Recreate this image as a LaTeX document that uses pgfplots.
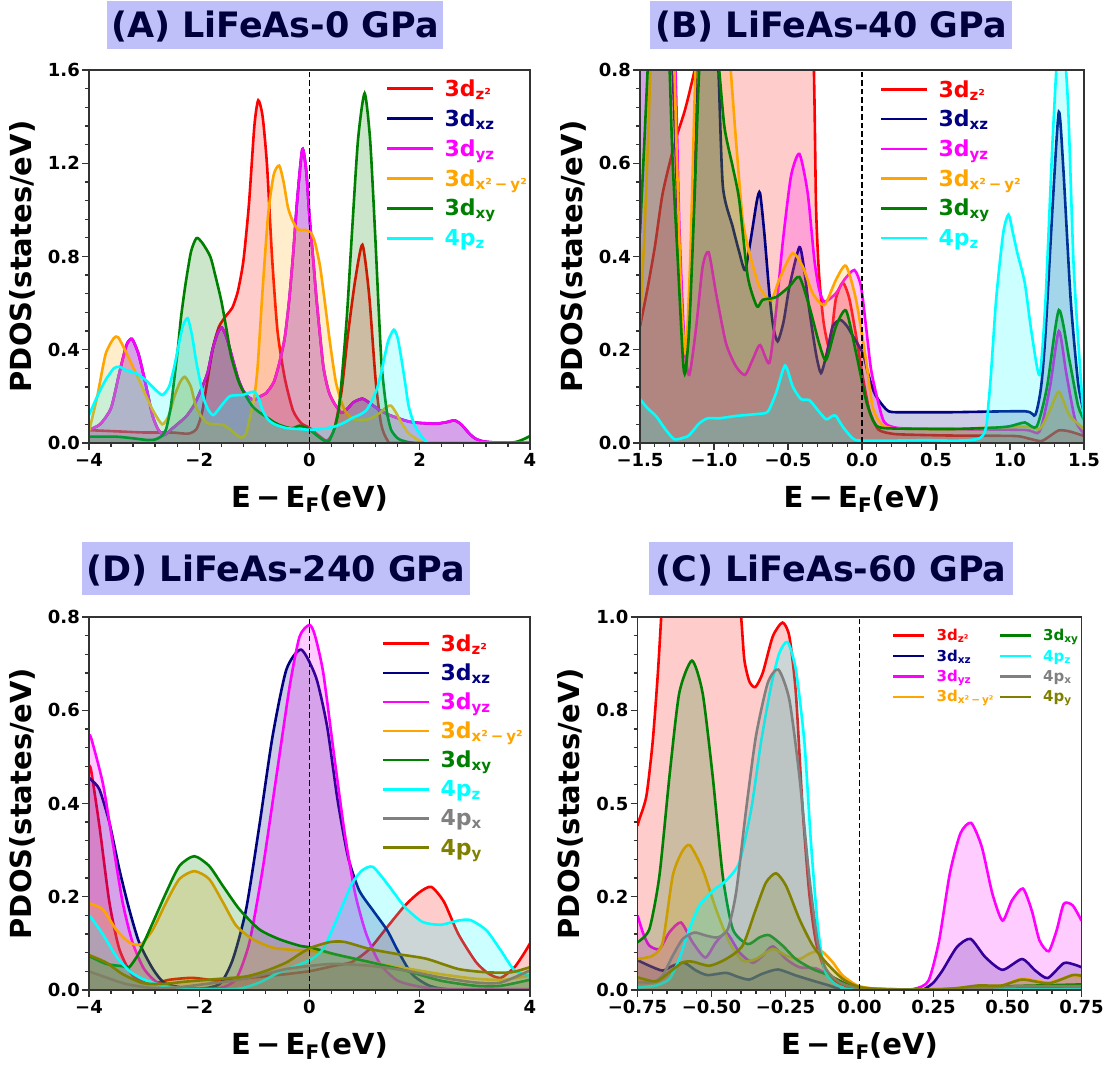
\documentclass[border=0pt]{standalone}
\usepackage{fontspec}
\setmainfont{DejaVu Sans}
\usepackage{pgfplots}
\pgfplotsset{compat=1.18}

\definecolor{cred}{RGB}{255,0,0}
\definecolor{cnavy}{RGB}{0,0,128}
\definecolor{cmag}{RGB}{255,0,255}
\definecolor{corange}{RGB}{255,165,0}
\definecolor{cgreen}{RGB}{0,128,0}
\definecolor{ccyan}{RGB}{0,255,255}
\definecolor{cgray}{RGB}{128,128,128}
\definecolor{colive}{RGB}{128,128,0}
\definecolor{tbox}{RGB}{191,191,250}
\definecolor{ttext}{RGB}{0,0,60}

\newcommand{\lo}[3]{\raisebox{#2}{\fontsize{#1}{#1}\selectfont #3}}
\newcommand{\pdos}[2]{%
  \addplot[draw=none, fill=#1, fill opacity=0.2, smooth, tension=0.4, forget plot] coordinates {#2} \closedcycle;
  \addplot[#1, line width=2.6pt, smooth, tension=0.4, forget plot] coordinates {#2};
}
\newcommand{\zline}[1]{\addplot[black, line width=1.5pt, dash pattern=on 5.5pt off 3pt, forget plot] coordinates {(0,0) (0,#1)};}

\newcommand{\bigsub}[1]{\lo{15}{-3pt}{#1}}
\newcommand{\smsub}[1]{\lo{10.5}{-2pt}{#1}}

\pgfplotsset{
  pd/.style={
    scale only axis, height=373pt,
    axis on top,
    axis line style={line width=1.5pt, black!80},
    tick style={line width=1.3pt, black!80},
    major tick length=7pt, minor tick length=4pt,
    tick align=outside, xtick pos=bottom, ytick pos=left,
    minor tick num=4,
    tick label style={font=\fontsize{18}{18}\selectfont\bfseries},
    yticklabel style={inner xsep=2pt},
    xlabel={E\hspace{0.18em}−\hspace{0.18em}E\lo{20}{-5pt}{F}(eV)},
    ylabel={PDOS(states/eV)},
    label style={font=\fontsize{29}{29}\selectfont\bfseries},
    xlabel style={at={(axis description cs:0.5,-0.172)}, anchor=base},
    ylabel style={at={(axis description cs:-0.15,0.5)}, anchor=center},
    legend style={draw=none, fill=none, inner sep=0pt, outer sep=0pt, column sep=0pt, anchor=north west},
  },
  bigleg/.style={legend style={font=\fontsize{22}{22}\selectfont\bfseries, row sep=7.7pt, cells={anchor=west, inner sep=0pt, text height=16.7pt, text depth=0pt}}},
  smleg/.style={legend style={font=\fontsize{15}{15}\selectfont\bfseries, row sep=3.5pt, column sep=3pt, cells={anchor=west, inner sep=0pt, text height=11.4pt, text depth=0pt}}},
}

\begin{document}
\begin{tikzpicture}
\path[use as bounding box] (0pt,0pt) rectangle (1106pt,1065pt);

% ---------------- (A) ----------------
\begin{axis}[pd, bigleg, at={(89pt,622pt)}, anchor=south west, width=441pt,
  xmin=-4, xmax=4, ymin=0, ymax=1.6,
  xtick={-4,-2,0,2,4}, xticklabels={−4,−2,0,2,4},
  ytick={0,0.4,0.8,1.2,1.6}, yticklabels={0.0,0.4,0.8,1.2,1.6},
  legend image code/.code={\draw[#1] (0pt,0pt) -- (46pt,0pt); \path (54pt,0pt);},
  legend style={at={(axis description cs:0.6735,0.9795)}}]
\pdos{cred}{(-4,0.055) (-3.5,0.05) (-3,0.045) (-2.5,0.045) (-2.2,0.04) (-2.05,0.06) (-1.95,0.13) (-1.85,0.27) (-1.75,0.41) (-1.64,0.5) (-1.5,0.55) (-1.4,0.58) (-1.3,0.65) (-1.2,0.78) (-1.1,1.02) (-1.0,1.36) (-0.93,1.47) (-0.85,1.4) (-0.77,1.19) (-0.68,0.8) (-0.58,0.48) (-0.45,0.28) (-0.3,0.14) (-0.15,0.085) (0,0.065) (0.15,0.035) (0.32,0.01) (0.45,0.06) (0.58,0.22) (0.7,0.47) (0.83,0.7) (0.96,0.85) (1.08,0.64) (1.2,0.27) (1.3,0.08) (1.42,0.01) (1.6,0) (4,0)}
\pdos{cnavy}{(-4,0.057) (-3.8,0.08) (-3.6,0.15) (-3.45,0.3) (-3.32,0.42) (-3.22,0.446) (-3.1,0.38) (-2.97,0.25) (-2.85,0.12) (-2.75,0.06) (-2.64,0.034) (-2.5,0.06) (-2.35,0.09) (-2.24,0.113) (-2.1,0.16) (-1.97,0.227) (-1.85,0.3) (-1.76,0.4) (-1.67,0.47) (-1.59,0.495) (-1.5,0.45) (-1.39,0.356) (-1.3,0.28) (-1.21,0.227) (-1.1,0.195) (-1.0,0.185) (-0.9,0.2) (-0.79,0.213) (-0.65,0.26) (-0.55,0.34) (-0.45,0.45) (-0.37,0.61) (-0.3,0.8) (-0.22,1.05) (-0.13,1.26) (-0.06,1.17) (0,0.97) (0.07,0.78) (0.13,0.61) (0.25,0.33) (0.35,0.22) (0.45,0.17) (0.58,0.13) (0.7,0.15) (0.8,0.175) (0.96,0.19) (1.1,0.17) (1.28,0.14) (1.45,0.12) (1.6,0.107) (1.8,0.092) (2.0,0.086) (2.3,0.083) (2.5,0.09) (2.63,0.097) (2.75,0.08) (2.89,0.043) (3.0,0.02) (3.15,0.007) (3.4,0.002) (4,0.002)}
\pdos{cmag}{(-4,0.057) (-3.8,0.08) (-3.6,0.15) (-3.45,0.3) (-3.32,0.42) (-3.22,0.446) (-3.1,0.38) (-2.97,0.25) (-2.85,0.12) (-2.75,0.06) (-2.64,0.034) (-2.5,0.06) (-2.35,0.09) (-2.24,0.113) (-2.1,0.16) (-1.97,0.227) (-1.85,0.3) (-1.76,0.4) (-1.67,0.47) (-1.59,0.495) (-1.5,0.45) (-1.39,0.356) (-1.3,0.28) (-1.21,0.227) (-1.1,0.195) (-1.0,0.185) (-0.9,0.2) (-0.79,0.213) (-0.65,0.26) (-0.55,0.34) (-0.45,0.45) (-0.37,0.61) (-0.3,0.8) (-0.22,1.05) (-0.13,1.26) (-0.06,1.17) (0,0.97) (0.07,0.78) (0.13,0.61) (0.25,0.33) (0.35,0.22) (0.45,0.17) (0.58,0.13) (0.7,0.15) (0.8,0.175) (0.96,0.19) (1.1,0.17) (1.28,0.14) (1.45,0.12) (1.6,0.107) (1.8,0.092) (2.0,0.086) (2.3,0.083) (2.5,0.09) (2.63,0.097) (2.75,0.08) (2.89,0.043) (3.0,0.02) (3.15,0.007) (3.4,0.002) (4,0.002)}
\pdos{corange}{(-4,0.05) (-3.85,0.2) (-3.7,0.38) (-3.55,0.45) (-3.47,0.453) (-3.35,0.4) (-3.15,0.3) (-3.0,0.22) (-2.84,0.14) (-2.67,0.08) (-2.55,0.12) (-2.45,0.2) (-2.35,0.26) (-2.26,0.284) (-2.15,0.24) (-2.06,0.156) (-1.95,0.11) (-1.85,0.085) (-1.7,0.08) (-1.57,0.078) (-1.45,0.06) (-1.35,0.04) (-1.24,0.023) (-1.15,0.04) (-1.07,0.12) (-1.0,0.2) (-0.94,0.33) (-0.85,0.66) (-0.75,0.98) (-0.65,1.15) (-0.55,1.19) (-0.47,1.12) (-0.39,1.01) (-0.3,0.95) (-0.2,0.915) (-0.07,0.914) (0.03,0.9) (0.1,0.86) (0.19,0.76) (0.27,0.62) (0.35,0.47) (0.42,0.35) (0.48,0.26) (0.56,0.19) (0.64,0.14) (0.75,0.11) (0.83,0.1) (1.03,0.1) (1.15,0.11) (1.28,0.13) (1.4,0.155) (1.48,0.16) (1.57,0.13) (1.67,0.086) (1.77,0.05) (1.86,0.03) (2.0,0.01) (2.2,0) (4,0)}
\pdos{cgreen}{(-4,0.027) (-3.5,0.027) (-3.2,0.02) (-2.95,0.013) (-2.8,0.015) (-2.68,0.03) (-2.6,0.06) (-2.52,0.15) (-2.46,0.26) (-2.39,0.4) (-2.33,0.54) (-2.25,0.68) (-2.15,0.82) (-2.05,0.879) (-1.95,0.86) (-1.8,0.8) (-1.7,0.71) (-1.6,0.61) (-1.5,0.48) (-1.42,0.37) (-1.28,0.26) (-1.15,0.2) (-1.03,0.156) (-0.9,0.13) (-0.79,0.113) (-0.65,0.09) (-0.55,0.078) (-0.4,0.066) (-0.3,0.064) (-0.18,0.074) (-0.08,0.068) (0,0.057) (0.12,0.035) (0.25,0.012) (0.35,0.007) (0.45,0.06) (0.52,0.13) (0.58,0.26) (0.68,0.55) (0.77,0.9) (0.88,1.3) (1.0,1.5) (1.1,1.3) (1.19,0.9) (1.25,0.6) (1.31,0.33) (1.4,0.14) (1.48,0.057) (1.6,0.02) (1.73,0.007) (2,0) (3.5,0) (3.75,0.005) (3.9,0.018) (4,0.03)}
\pdos{ccyan}{(-4,0.12) (-3.85,0.2) (-3.7,0.27) (-3.55,0.32) (-3.45,0.327) (-3.3,0.31) (-3.15,0.3) (-2.97,0.27) (-2.8,0.23) (-2.67,0.206) (-2.55,0.24) (-2.47,0.31) (-2.39,0.4) (-2.3,0.5) (-2.21,0.535) (-2.13,0.46) (-2.06,0.356) (-1.98,0.26) (-1.91,0.184) (-1.83,0.14) (-1.74,0.12) (-1.6,0.16) (-1.45,0.2) (-1.3,0.205) (-1.21,0.206) (-1.1,0.215) (-1.0,0.22) (-0.92,0.19) (-0.85,0.14) (-0.75,0.1) (-0.63,0.08) (-0.42,0.064) (-0.2,0.06) (0,0.057) (0.2,0.06) (0.45,0.07) (0.65,0.09) (0.77,0.107) (0.9,0.12) (1.03,0.14) (1.13,0.18) (1.22,0.23) (1.3,0.3) (1.35,0.357) (1.43,0.44) (1.53,0.486) (1.6,0.45) (1.67,0.357) (1.74,0.25) (1.8,0.157) (1.9,0.08) (1.99,0.043) (2.12,0.005) (2.3,0) (4,0)}
\zline{1.6}
\addlegendimage{cred, line width=2.6pt}\addlegendentry[text=cred]{3d\bigsub{z²}}
\addlegendimage{cnavy, line width=2.6pt}\addlegendentry[text=cnavy]{3d\bigsub{xz}}
\addlegendimage{cmag, line width=2.6pt}\addlegendentry[text=cmag]{3d\bigsub{yz}}
\addlegendimage{corange, line width=2.6pt}\addlegendentry[text=corange]{3d\bigsub{x²\hspace{0.2em}−\hspace{0.2em}y²}}
\addlegendimage{cgreen, line width=2.6pt}\addlegendentry[text=cgreen]{3d\bigsub{xy}}
\addlegendimage{ccyan, line width=2.6pt}\addlegendentry[text=ccyan]{4p\bigsub{z}}
\end{axis}

% ---------------- (B) ----------------
\begin{axis}[pd, bigleg, at={(640pt,622pt)}, anchor=south west, width=444pt,
  xmin=-1.5, xmax=1.5, ymin=0, ymax=0.8,
  xtick={-1.5,-1,-0.5,0,0.5,1,1.5}, xticklabels={−1.5,−1.0,−0.5,0.0,0.5,1.0,1.5},
  ytick={0,0.2,0.4,0.6,0.8}, yticklabels={0.0,0.2,0.4,0.6,0.8},
  legend image code/.code={\draw[#1] (0pt,0pt) -- (46pt,0pt); \path (54pt,0pt);},
  legend style={at={(axis description cs:0.5405,0.9776)}, row sep=7.5pt}]
\pdos{cred}{(-1.5,0.25) (-1.45,0.33) (-1.4,0.42) (-1.35,0.53) (-1.3,0.6) (-1.25,0.66) (-1.2,0.71) (-1.16,0.76) (-1.12,0.82) (-1.08,0.95) (-1.0,1.2) (-0.8,1.3) (-0.6,1.3) (-0.4,1.3) (-0.34,1.0) (-0.322,0.75) (-0.31,0.5) (-0.29,0.36) (-0.26,0.26) (-0.225,0.207) (-0.2,0.25) (-0.176,0.31) (-0.13,0.344) (-0.086,0.31) (-0.04,0.23) (0.005,0.142) (0.05,0.07) (0.11,0.029) (0.2,0.02) (0.3,0.018) (0.6,0.016) (1.03,0.015) (1.12,0.01) (1.21,0.004) (1.27,0.015) (1.33,0.027) (1.4,0.025) (1.5,0.015)}
\pdos{cnavy}{(-1.5,1.2) (-1.35,1.2) (-1.28,0.8) (-1.24,0.45) (-1.21,0.25) (-1.19,0.185) (-1.17,0.25) (-1.14,0.5) (-1.12,0.8) (-1.08,1.1) (-1.0,1.0) (-0.97,0.8) (-0.94,0.55) (-0.874,0.464) (-0.83,0.41) (-0.79,0.371) (-0.75,0.44) (-0.71,0.52) (-0.689,0.536) (-0.66,0.45) (-0.626,0.321) (-0.6,0.25) (-0.57,0.218) (-0.53,0.26) (-0.49,0.336) (-0.423,0.42) (-0.39,0.37) (-0.356,0.285) (-0.31,0.19) (-0.277,0.15) (-0.24,0.19) (-0.198,0.25) (-0.146,0.264) (-0.1,0.25) (-0.063,0.23) (0.005,0.193) (0.04,0.15) (0.08,0.11) (0.11,0.093) (0.18,0.068) (0.3,0.066) (0.6,0.066) (1.1,0.068) (1.17,0.06) (1.21,0.12) (1.24,0.236) (1.29,0.52) (1.33,0.71) (1.36,0.59) (1.41,0.307) (1.46,0.129) (1.5,0.064)}
\pdos{cmag}{(-1.5,1.2) (-1.3,1.2) (-1.26,0.8) (-1.234,0.464) (-1.2,0.214) (-1.167,0.146) (-1.12,0.25) (-1.077,0.378) (-1.036,0.409) (-0.986,0.321) (-0.919,0.214) (-0.851,0.164) (-0.79,0.146) (-0.74,0.178) (-0.689,0.21) (-0.626,0.172) (-0.58,0.285) (-0.536,0.429) (-0.48,0.572) (-0.423,0.62) (-0.367,0.536) (-0.322,0.393) (-0.29,0.33) (-0.254,0.303) (-0.176,0.321) (-0.12,0.35) (-0.052,0.371) (-0.007,0.336) (0.027,0.25) (0.06,0.16) (0.1,0.1) (0.15,0.045) (0.25,0.032) (0.6,0.03) (1.1,0.028) (1.2,0.025) (1.27,0.12) (1.33,0.24) (1.38,0.15) (1.44,0.05) (1.5,0.02)}
\pdos{corange}{(-1.5,0.26) (-1.47,0.45) (-1.44,0.7) (-1.42,0.9) (-1.35,1.1) (-1.28,0.9) (-1.25,0.6) (-1.22,0.3) (-1.19,0.193) (-1.16,0.4) (-1.13,0.75) (-1.1,1.0) (-1.0,1.1) (-0.95,1.0) (-0.9,0.85) (-0.85,0.643) (-0.806,0.479) (-0.76,0.407) (-0.694,0.336) (-0.615,0.306) (-0.56,0.35) (-0.47,0.407) (-0.4,0.378) (-0.333,0.321) (-0.254,0.296) (-0.176,0.35) (-0.108,0.38) (-0.04,0.307) (0.027,0.178) (0.07,0.08) (0.12,0.045) (0.2,0.032) (0.6,0.03) (1.1,0.035) (1.2,0.03) (1.27,0.07) (1.33,0.11) (1.4,0.06) (1.5,0.03)}
\pdos{cgreen}{(-1.5,0.45) (-1.47,0.65) (-1.44,0.85) (-1.4,1.0) (-1.32,0.95) (-1.28,0.607) (-1.245,0.393) (-1.21,0.178) (-1.194,0.151) (-1.167,0.25) (-1.13,0.536) (-1.1,0.8) (-1.05,1.0) (-0.98,0.85) (-0.93,0.679) (-0.874,0.593) (-0.83,0.522) (-0.772,0.357) (-0.71,0.293) (-0.671,0.307) (-0.58,0.313) (-0.49,0.336) (-0.423,0.356) (-0.356,0.293) (-0.29,0.214) (-0.243,0.178) (-0.176,0.25) (-0.108,0.284) (-0.04,0.193) (0.027,0.092) (0.08,0.045) (0.15,0.032) (0.6,0.03) (0.9,0.033) (1.0,0.036) (1.1,0.044) (1.18,0.035) (1.25,0.12) (1.33,0.285) (1.4,0.18) (1.46,0.08) (1.5,0.05)}
\pdos{ccyan}{(-1.5,0.094) (-1.45,0.075) (-1.39,0.057) (-1.33,0.03) (-1.268,0.008) (-1.2,0.012) (-1.167,0.017) (-1.1,0.042) (-1.043,0.053) (-0.964,0.053) (-0.851,0.058) (-0.716,0.062) (-0.637,0.067) (-0.581,0.107) (-0.52,0.166) (-0.468,0.121) (-0.412,0.094) (-0.356,0.092) (-0.3,0.071) (-0.243,0.051) (-0.2,0.058) (-0.176,0.058) (-0.13,0.035) (-0.063,0.01) (0.005,0.005) (0.4,0.006) (0.8,0.011) (0.857,0.093) (0.906,0.307) (0.954,0.45) (0.99,0.49) (1.02,0.45) (1.05,0.407) (1.1,0.343) (1.146,0.236) (1.2,0.146) (1.24,0.307) (1.29,0.664) (1.34,0.92) (1.39,0.74) (1.43,0.38) (1.48,0.13) (1.5,0.05)}
\zline{0.8}
\addlegendimage{cred, line width=2.6pt}\addlegendentry[text=cred]{3d\bigsub{z²}}
\addlegendimage{cnavy, line width=2.6pt}\addlegendentry[text=cnavy]{3d\bigsub{xz}}
\addlegendimage{cmag, line width=2.6pt}\addlegendentry[text=cmag]{3d\bigsub{yz}}
\addlegendimage{corange, line width=2.6pt}\addlegendentry[text=corange]{3d\bigsub{x²\hspace{0.2em}−\hspace{0.2em}y²}}
\addlegendimage{cgreen, line width=2.6pt}\addlegendentry[text=cgreen]{3d\bigsub{xy}}
\addlegendimage{ccyan, line width=2.6pt}\addlegendentry[text=ccyan]{4p\bigsub{z}}
\end{axis}

% ---------------- (D) ----------------
\begin{axis}[pd, bigleg, at={(89pt,75pt)}, anchor=south west, width=441pt,
  xmin=-4, xmax=4, ymin=0, ymax=0.8,
  xtick={-4,-2,0,2,4}, xticklabels={−4,−2,0,2,4},
  ytick={0,0.2,0.4,0.6,0.8}, yticklabels={0.0,0.2,0.4,0.6,0.8},
  legend image code/.code={\draw[#1] (0pt,0pt) -- (46pt,0pt); \path (54pt,0pt);},
  legend style={at={(axis description cs:0.6644,0.958)}, row sep=6.9pt}]
\pdos{cred}{(-4,0.48) (-3.96,0.47) (-3.81,0.351) (-3.63,0.188) (-3.45,0.088) (-3.21,0.031) (-2.9,0.013) (-2.54,0.022) (-2.12,0.026) (-1.63,0.02) (-1.03,0.027) (-0.42,0.034) (0.03,0.041) (0.45,0.052) (0.77,0.06) (1.09,0.088) (1.41,0.135) (1.73,0.181) (2.0,0.21) (2.21,0.221) (2.44,0.189) (2.7,0.12) (3.02,0.06) (3.25,0.035) (3.47,0.026) (3.72,0.049) (3.9,0.08) (4,0.1)}
\pdos{cnavy}{(-4,0.455) (-3.96,0.451) (-3.81,0.43) (-3.63,0.359) (-3.45,0.259) (-3.27,0.173) (-3.09,0.102) (-2.84,0.045) (-2.6,0.013) (-2.06,0.002) (-1.63,0.013) (-1.39,0.066) (-1.15,0.173) (-0.91,0.352) (-0.67,0.544) (-0.42,0.687) (-0.15,0.73) (0.12,0.67) (0.32,0.565) (0.51,0.407) (0.7,0.285) (0.9,0.214) (1.15,0.171) (1.41,0.128) (1.6,0.085) (1.86,0.034) (2.18,0.009) (2.6,0.001) (4,0.001)}
\pdos{cmag}{(-4,0.545) (-3.96,0.54) (-3.75,0.444) (-3.57,0.316) (-3.39,0.188) (-3.21,0.102) (-3.0,0.045) (-2.72,0.013) (-2.24,0.004) (-1.63,0.004) (-1.33,0.024) (-1.09,0.102) (-0.85,0.259) (-0.6,0.459) (-0.36,0.651) (-0.18,0.758) (0,0.783) (0.1,0.76) (0.25,0.68) (0.45,0.5) (0.64,0.335) (0.83,0.206) (1.03,0.12) (1.28,0.056) (1.6,0.02) (2.05,0.006) (2.5,0.002) (4,0.002)}
\pdos{corange}{(-4,0.186) (-3.75,0.173) (-3.51,0.13) (-3.27,0.102) (-3.06,0.098) (-2.84,0.13) (-2.6,0.188) (-2.36,0.238) (-2.09,0.255) (-1.82,0.238) (-1.57,0.188) (-1.33,0.138) (-1.03,0.109) (-0.67,0.091) (-0.3,0.086) (0.03,0.084) (0.45,0.077) (1.09,0.06) (1.73,0.047) (2.38,0.034) (3.02,0.024) (3.53,0.022) (4,0.031)}
\pdos{cgreen}{(-4,0.073) (-3.69,0.056) (-3.39,0.051) (-3.27,0.049) (-3.09,0.08) (-2.84,0.145) (-2.6,0.209) (-2.36,0.266) (-2.09,0.287) (-1.82,0.266) (-1.57,0.223) (-1.27,0.173) (-0.91,0.13) (-0.55,0.109) (-0.18,0.095) (0.03,0.091) (0.45,0.077) (1.09,0.06) (1.73,0.042) (2.38,0.02) (3.02,0.009) (3.47,0.009) (4,0.022)}
\pdos{ccyan}{(-4,0.16) (-3.96,0.155) (-3.75,0.12) (-3.51,0.073) (-3.27,0.041) (-3.03,0.024) (-2.66,0.009) (-2.24,0.002) (-1.33,0.002) (-0.91,0.016) (-0.55,0.038) (-0.24,0.052) (0.03,0.066) (0.25,0.088) (0.51,0.156) (0.77,0.228) (0.96,0.257) (1.15,0.264) (1.41,0.228) (1.73,0.178) (2.05,0.146) (2.38,0.14) (2.7,0.149) (2.92,0.15) (3.21,0.128) (3.47,0.085) (3.72,0.042) (4,0.03)}
\pdos{cgray}{(-4,0.04) (-3.69,0.027) (-3.33,0.013) (-2.84,0.004) (-2.36,0.006) (-1.88,0.013) (-1.39,0.02) (-0.91,0.031) (-0.42,0.045) (0.03,0.052) (0.45,0.056) (1.09,0.052) (1.73,0.042) (2.38,0.027) (3.02,0.016) (3.47,0.016) (4,0.042)}
\pdos{colive}{(-4,0.075) (-3.69,0.059) (-3.39,0.034) (-3.03,0.015) (-2.66,0.013) (-2.24,0.018) (-1.63,0.024) (-1.15,0.029) (-0.79,0.041) (-0.42,0.059) (-0.18,0.077) (0.03,0.091) (0.38,0.103) (0.64,0.103) (1.09,0.088) (1.6,0.077) (2.12,0.067) (2.7,0.045) (3.21,0.038) (3.66,0.038) (4,0.049)}
\zline{0.8}
\addlegendimage{cred, line width=2.6pt}\addlegendentry[text=cred]{3d\bigsub{z²}}
\addlegendimage{cnavy, line width=2.6pt}\addlegendentry[text=cnavy]{3d\bigsub{xz}}
\addlegendimage{cmag, line width=2.6pt}\addlegendentry[text=cmag]{3d\bigsub{yz}}
\addlegendimage{corange, line width=2.6pt}\addlegendentry[text=corange]{3d\bigsub{x²\hspace{0.2em}−\hspace{0.2em}y²}}
\addlegendimage{cgreen, line width=2.6pt}\addlegendentry[text=cgreen]{3d\bigsub{xy}}
\addlegendimage{ccyan, line width=2.6pt}\addlegendentry[text=ccyan]{4p\bigsub{z}}
\addlegendimage{cgray, line width=2.6pt}\addlegendentry[text=cgray]{4p\bigsub{x}}
\addlegendimage{colive, line width=2.6pt}\addlegendentry[text=colive]{4p\bigsub{y}}
\end{axis}

% ---------------- (C) ----------------
\begin{axis}[pd, smleg, at={(637.5pt,75pt)}, anchor=south west, width=444pt,
  xmin=-0.75, xmax=0.75, ymin=0, ymax=1,
  xtick={-0.75,-0.5,-0.25,0,0.25,0.5,0.75}, xticklabels={−0.75,−0.50,−0.25,0.00,0.25,0.50,0.75},
  ytick={0,0.25,0.5,0.75,1}, yticklabels={0.0,0.2,0.5,0.8,1.0},
  legend columns=2,
  legend image code/.code={\draw[#1] (0pt,0pt) -- (31pt,0pt); \path (37pt,0pt);},
  legend style={at={(axis description cs:0.5732,0.9724)}}]
\pdos{cred}{(-0.75,0.44) (-0.744,0.457) (-0.72,0.52) (-0.699,0.663) (-0.682,0.84) (-0.67,1.0) (-0.65,1.3) (-0.55,1.5) (-0.45,1.4) (-0.42,1.15) (-0.40,1.0) (-0.389,0.885) (-0.372,0.827) (-0.352,0.812) (-0.327,0.85) (-0.293,0.948) (-0.26,0.985) (-0.237,0.948) (-0.215,0.796) (-0.192,0.484) (-0.17,0.261) (-0.147,0.128) (-0.113,0.047) (-0.068,0.016) (0,0.005) (0.2,0.001) (0.4,0.004) (0.55,0.008) (0.75,0.01)}
\pdos{cnavy}{(-0.75,0.08) (-0.71,0.065) (-0.665,0.052) (-0.631,0.065) (-0.592,0.073) (-0.552,0.052) (-0.513,0.04) (-0.451,0.046) (-0.41,0.035) (-0.372,0.028) (-0.33,0.043) (-0.276,0.055) (-0.215,0.039) (-0.158,0.025) (-0.102,0.012) (-0.068,0.003) (0,0) (0.2,0) (0.22,0.003) (0.25,0.02) (0.28,0.052) (0.329,0.115) (0.375,0.137) (0.425,0.088) (0.483,0.054) (0.549,0.083) (0.594,0.052) (0.636,0.032) (0.69,0.072) (0.726,0.068) (0.75,0.061)}
\pdos{cmag}{(-0.75,0.2) (-0.73,0.15) (-0.71,0.119) (-0.676,0.11) (-0.642,0.155) (-0.603,0.181) (-0.564,0.128) (-0.521,0.087) (-0.485,0.128) (-0.449,0.153) (-0.406,0.101) (-0.361,0.073) (-0.327,0.092) (-0.293,0.117) (-0.248,0.083) (-0.203,0.061) (-0.147,0.058) (-0.102,0.039) (-0.057,0.021) (0,0.005) (0.1,0) (0.185,0.003) (0.233,0.025) (0.269,0.133) (0.305,0.312) (0.341,0.42) (0.377,0.448) (0.413,0.384) (0.449,0.258) (0.483,0.186) (0.515,0.24) (0.552,0.272) (0.582,0.213) (0.608,0.133) (0.639,0.104) (0.666,0.16) (0.69,0.231) (0.72,0.227) (0.75,0.186)}
\pdos{corange}{(-0.75,0.083) (-0.699,0.092) (-0.665,0.128) (-0.631,0.306) (-0.6,0.37) (-0.573,0.388) (-0.53,0.324) (-0.485,0.217) (-0.44,0.128) (-0.395,0.079) (-0.35,0.083) (-0.293,0.11) (-0.248,0.092) (-0.203,0.083) (-0.17,0.097) (-0.13,0.105) (-0.09,0.074) (-0.057,0.039) (0,0.01) (0.1,0.001) (0.3,0.003) (0.4,0.01) (0.48,0.012) (0.55,0.03) (0.64,0.02) (0.72,0.04) (0.75,0.035)}
\pdos{cgreen}{(-0.75,0.128) (-0.71,0.163) (-0.676,0.306) (-0.642,0.573) (-0.609,0.796) (-0.566,0.883) (-0.53,0.796) (-0.496,0.573) (-0.462,0.306) (-0.428,0.163) (-0.378,0.123) (-0.338,0.141) (-0.305,0.147) (-0.26,0.119) (-0.215,0.083) (-0.158,0.056) (-0.102,0.039) (-0.046,0.016) (0,0.005) (0.1,0) (0.3,0.002) (0.5,0.01) (0.6,0.012) (0.75,0.015)}
\pdos{ccyan}{(-0.75,0.007) (-0.687,0.012) (-0.642,0.03) (-0.609,0.083) (-0.575,0.163) (-0.541,0.226) (-0.496,0.266) (-0.451,0.293) (-0.406,0.342) (-0.366,0.484) (-0.333,0.663) (-0.299,0.814) (-0.271,0.903) (-0.243,0.933) (-0.215,0.859) (-0.186,0.663) (-0.164,0.395) (-0.141,0.172) (-0.119,0.056) (-0.09,0.021) (-0.057,0.007) (0,0.002) (0.75,0.002)}
\pdos{cgray}{(-0.75,0.021) (-0.699,0.021) (-0.665,0.039) (-0.631,0.092) (-0.597,0.137) (-0.558,0.154) (-0.519,0.146) (-0.479,0.141) (-0.445,0.163) (-0.417,0.261) (-0.383,0.484) (-0.35,0.68) (-0.31,0.823) (-0.274,0.859) (-0.237,0.778) (-0.203,0.573) (-0.17,0.306) (-0.141,0.128) (-0.113,0.056) (-0.068,0.021) (0,0.005) (0.2,0.001) (0.4,0.005) (0.55,0.01) (0.75,0.01)}
\pdos{colive}{(-0.75,0.034) (-0.687,0.023) (-0.642,0.048) (-0.597,0.074) (-0.564,0.076) (-0.507,0.065) (-0.451,0.083) (-0.395,0.119) (-0.35,0.217) (-0.316,0.288) (-0.282,0.313) (-0.248,0.279) (-0.203,0.19) (-0.158,0.119) (-0.113,0.074) (-0.057,0.03) (0,0.008) (0.1,0.001) (0.3,0.003) (0.4,0.012) (0.48,0.012) (0.55,0.028) (0.64,0.018) (0.72,0.04) (0.75,0.038)}
\zline{1}
\addlegendimage{cred, line width=2.6pt}\addlegendentry[text=cred]{3d\smsub{z²}}
\addlegendimage{cgreen, line width=2.6pt}\addlegendentry[text=cgreen]{3d\smsub{xy}}
\addlegendimage{cnavy, line width=2.6pt}\addlegendentry[text=cnavy]{3d\smsub{xz}}
\addlegendimage{ccyan, line width=2.6pt}\addlegendentry[text=ccyan]{4p\smsub{z}}
\addlegendimage{cmag, line width=2.6pt}\addlegendentry[text=cmag]{3d\smsub{yz}}
\addlegendimage{cgray, line width=2.6pt}\addlegendentry[text=cgray]{4p\smsub{x}}
\addlegendimage{corange, line width=2.6pt}\addlegendentry[text=corange]{3d\smsub{x²\hspace{0.2em}−\hspace{0.2em}y²}}
\addlegendimage{colive, line width=2.6pt}\addlegendentry[text=colive]{4p\smsub{y}}
\end{axis}

% ---------------- titles ----------------
\begin{scope}[every node/.style={fill=tbox, text=ttext, font=\fontsize{35}{35}\selectfont\bfseries, inner sep=0pt, text height=25.5pt, text depth=0pt}]
\node[minimum width=336pt, minimum height=48pt] at (275pt,1040pt) {(A) LiFeAs-0 GPa};
\node[minimum width=362pt, minimum height=48pt] at (831pt,1040pt) {(B) LiFeAs-40 GPa};
\node[minimum width=388pt, minimum height=53pt] at (276pt,496.5pt) {(D) LiFeAs-240 GPa};
\node[minimum width=364pt, minimum height=53pt] at (831pt,496.5pt) {(C) LiFeAs-60 GPa};
\end{scope}
\end{tikzpicture}
\end{document}
